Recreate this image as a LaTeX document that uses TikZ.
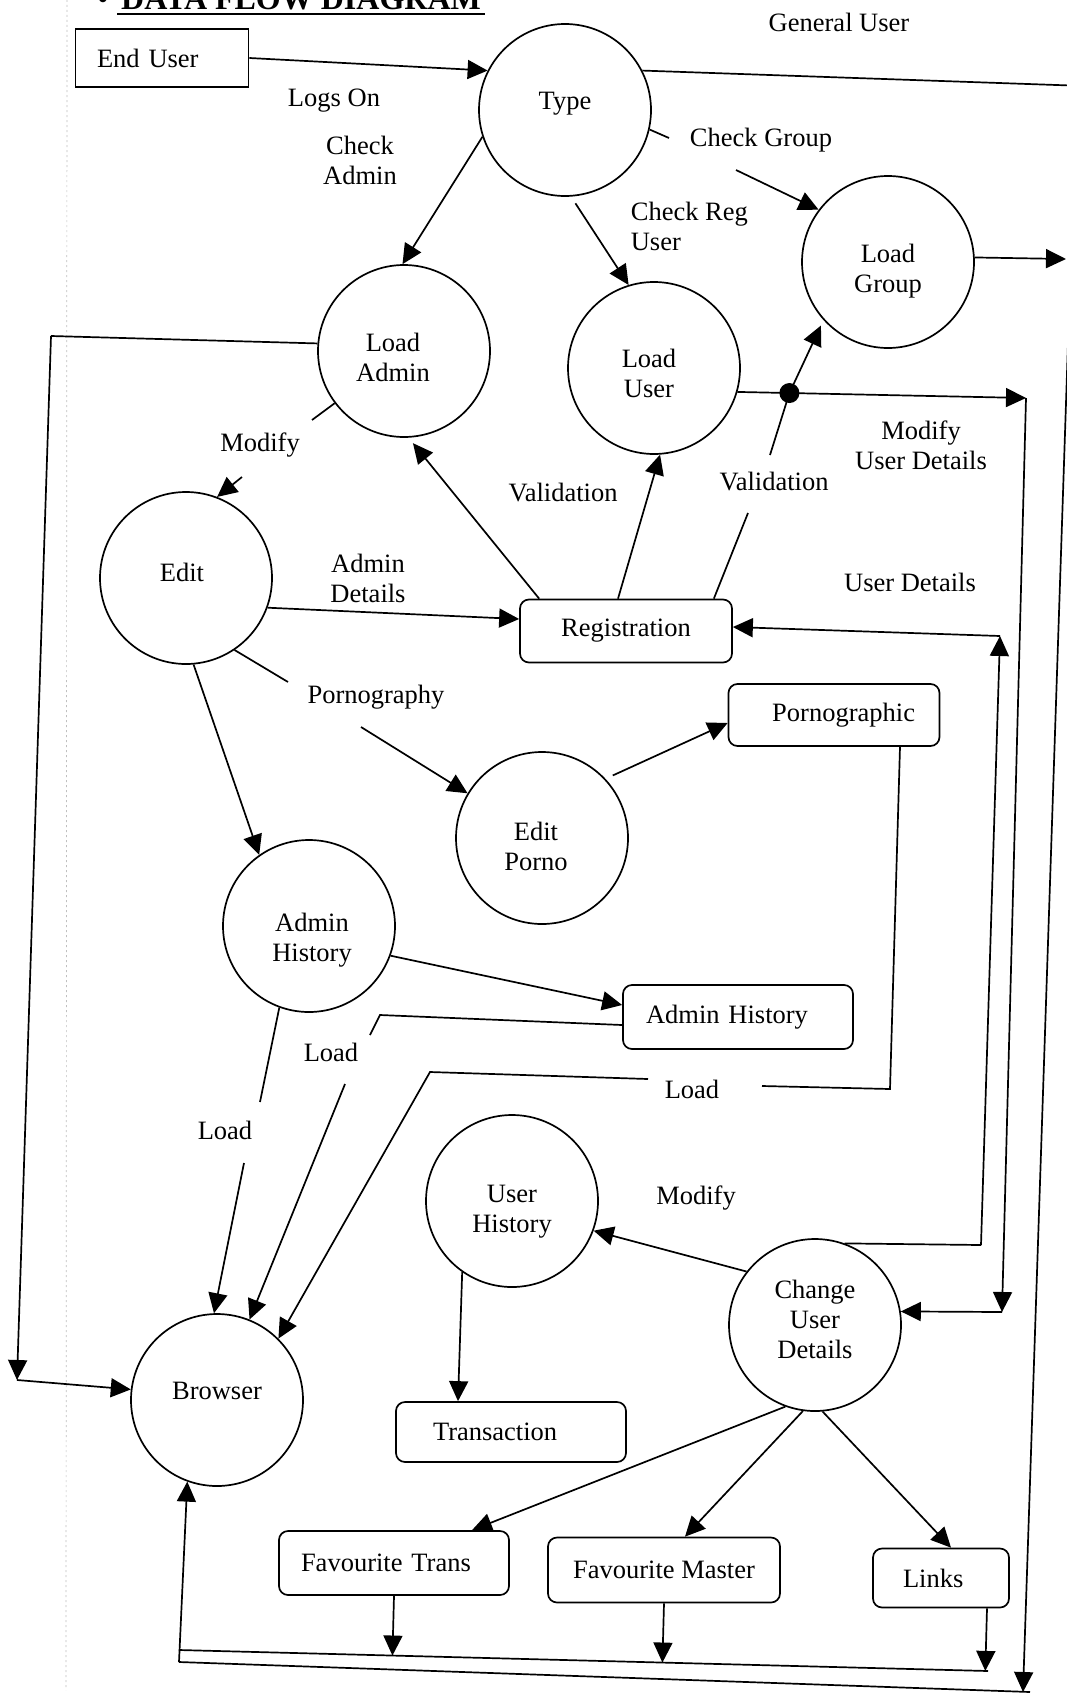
\documentclass[tikz,border=0pt]{standalone}
\usepackage{fontspec}
\setmainfont{Liberation Serif}
\usepackage{tikz}
\usetikzlibrary{positioning,calc,arrows.meta}
\tikzset{>={Triangle[length=20pt,width=19pt]}}

\begin{document}
\begin{tikzpicture}[x=1pt,y=-1pt,line width=1.7pt,
  font=\fontsize{26.5}{30}\selectfont,
  proc/.style={draw,circle,minimum size=172pt,inner sep=0pt,align=center},
  store/.style={draw,rounded corners=9pt,inner sep=0pt},
  ext/.style={draw,inner sep=0pt},
  lbl/.style={inner sep=0pt,align=center}]
\useasboundingbox (0,0) rectangle (1067,1694);
\draw[gray!50,line width=.7pt,dash pattern=on 2pt off 3pt] (67,0) -- (66,1690);
\node[anchor=base west,font=\fontsize{32}{36}\selectfont\bfseries] (title) at (117,10) {DATA FLOW DIAGRAM};
\node[anchor=base,font=\fontsize{32}{36}\selectfont] (bul) at (103,10) {\textbullet};
\draw[line width=2.6pt] ([yshift=-4pt]title.base west) -- ([yshift=-4pt]title.base east);

\node[ext,minimum width=173pt,minimum height=58pt,text width=130pt,align=left] (eu) at (162,58) {End User};
\node[proc,label={[lbl,yshift=6pt]center:Type}] (type) at (565,110) {};
\node[proc,label={[lbl,xshift=-11pt,yshift=-6pt]center:{Load\\Admin}}] (ladmin) at (404,351) {};
\node[proc,label={[lbl,xshift=-5pt,yshift=-5pt]center:{Load\\User}}] (luser) at (654,368) {};
\node[proc,label={[lbl,yshift=-9pt]center:{Load\\Group}}] (lgroup) at (888,262) {};
\node[proc,label={[lbl,xshift=-4pt,yshift=6pt]center:Edit}] (edit) at (186,578) {};
\node[store,minimum width=212pt,minimum height=63pt] (reg) at (626,631) {Registration};
\node[store,minimum width=211pt,minimum height=62pt,text width=162pt,align=right] (porn) at (834,715) {Pornographic};
\node[proc,label={[lbl,xshift=-6pt,yshift=-8pt]center:{Edit\\Porno}}] (eporno) at (542,838) {};
\node[proc,label={[lbl,xshift=3pt,yshift=-14pt]center:{Admin\\History}}] (ahist) at (309,926) {};
\node[store,minimum width=230pt,minimum height=64pt,text width=184pt,align=left] (ahbox) at (738,1017) {Admin History};
\node[proc,label={[lbl,yshift=-11pt]center:{User\\History}}] (uhist) at (512,1201) {};
\node[proc,label={[lbl,yshift=6pt]center:{Change\\User\\Details}}] (cud) at (815,1325) {};
\node[proc,label={[lbl,yshift=9pt]center:Browser}] (browser) at (217,1400) {};
\node[store,minimum width=230pt,minimum height=60pt,text width=156pt,align=left] (trans) at (511,1432) {Transaction};
\node[store,minimum width=230pt,minimum height=64pt,text width=186pt,align=left] (ftrans) at (394,1563) {Favourite Trans};
\node[store,minimum width=232pt,minimum height=65pt] (fmast) at (664,1570) {Favourite Master};
\node[store,minimum width=136pt,minimum height=59pt,text width=76pt,align=left] (links) at (941,1578) {Links};

\node[lbl] (lgen) at (839,22) {General User};
\node[lbl] (llog) at (334,101) {Logs On};
\node[lbl] (lcadm) at (360,160) {Check\\Admin};
\node[lbl] (lcgrp) at (761,140) {Check Group};
\node[lbl,anchor=west,align=left] (lcreg) at (630,226) {Check Reg\\User};
\node[lbl] (lmod1) at (260,445) {Modify};
\node[lbl] (lval1) at (563,493) {Validation};
\node[lbl] (lval2) at (774,482) {Validation};
\node[lbl] (lmud) at (921,445) {Modify\\User Details};
\node[lbl] (lud) at (910,582) {User Details};
\node[lbl] (ladet) at (368,578) {Admin\\Details};
\node[lbl] (lporn) at (376,697) {Pornography};
\node[lbl] (lload1) at (331,1052) {Load};
\node[lbl] (lload2) at (692,1089) {Load};
\node[lbl] (lload3) at (225,1130) {Load};
\node[lbl] (lmod2) at (696,1198) {Modify};

% bends and breaks of the flows
\coordinate (cg1) at (669,138); \coordinate (cg2) at (736,170);
\coordinate (gu1) at (1085,86); \coordinate (gu2) at (1068,343); \coordinate (gu3) at (1023,1692);
\coordinate (lgout) at (1066,259);
\coordinate (cor1) at (1026,398); \coordinate (cor2) at (1002,1312);
\coordinate (vr1) at (748,513); \coordinate (vr2) at (770,455);
\coordinate (m1) at (312,420); \coordinate (m2) at (242,477);
\coordinate (p1) at (288,682); \coordinate (p2) at (361,727);
\coordinate (l1) at (380,1015); \coordinate (l2) at (370,1035); \coordinate (l3) at (345,1084);
\coordinate (l4) at (260,1102); \coordinate (l5) at (244,1163);
\coordinate (r1) at (890,1089); \coordinate (r2) at (762,1086); \coordinate (r3) at (648,1079); \coordinate (r4) at (430,1072);
\coordinate (u1) at (981,1245); \coordinate (u2) at (1000,636);
\coordinate (dsa) at (179,1650); \coordinate (dsb) at (988,1671); \coordinate (dsc) at (179,1662); \coordinate (dsd) at (1030,1692);
\coordinate (lf1) at (51,336); \coordinate (lf2) at (17,1380);
\coordinate (lkout) at ([xshift=46pt]links.south);
\coordinate (jdot) at ($(luser.-16)!.18!(cor1)$);

\draw[->] (eu.east) -- (type.153);
\draw[->] (type.198) -- (ladmin.91);
\draw[->,shorten <=8pt] (type.-86) -- (luser.107);
\draw (type.-13) -- (cg1);
\draw[->] (cg2) -- (lgroup.143);
\draw[->] (type.27) -- (gu1) -- (gu2) -- (gu3);
\draw[->] (lgroup.3) -- (lgout);
\draw[->] (luser.-16) -- (cor1);
\draw[->] (cor1) -- (cor2);
\draw[->] (cor2) -- (cud.9);
\fill (jdot) circle[radius=10pt];
\draw ([xshift=-19pt]reg.north east) -- (vr1);
\draw[->,shorten >=6pt] (vr2) -- (jdot) -- (lgroup.-138);
\draw[->,shorten >=7pt] ([xshift=20pt]reg.north west) -- (ladmin.-87);
\draw[->] ([xshift=-8pt]reg.north) -- (luser.-86);
\draw (ladmin.217) -- (m1);
\draw[->] (m2) -- (edit.69);
\draw[->] (edit.-20) -- ([yshift=12pt]reg.west);
\draw (edit.-56) -- (p1);
\draw[->] (p2) -- (eporno.149);
\draw[->,shorten <=8pt] (eporno.43) -- ([yshift=-8pt]porn.west);
\draw[->] (edit.-85) -- (ahist.125);
\draw[->] (ahist.-20) -- ([yshift=12pt]ahbox.west);
\draw ([yshift=-8pt]ahbox.west) -- (l1) -- (l2);
\draw[->] (l3) -- (browser.68);
\draw (ahist.-110) -- (l4);
\draw[->] (l5) -- (browser.92);
\draw ([xshift=66pt]porn.south) -- (r1) -- (r2);
\draw[->] (r3) -- (r4) -- (browser.45);
\draw[->] (uhist.-125) -- ([xshift=-53pt]trans.north);
\draw[->] (cud.142) -- (uhist.-20);
\draw (cud.70) -- (u1);
\draw[->] (u1) -- (u2);
\draw[->] (u2) -- ([yshift=4pt]reg.east);
\draw[->] (cud.-110) -- ([xshift=78pt]ftrans.north);
\draw[->] (cud.-98) -- ([xshift=21pt]fmast.north);
\draw[->] (cud.-85) -- ([xshift=10pt]links.north);
\draw (dsa) -- (dsb);
\draw (dsc) -- (dsd);
\draw[->] (dsc) -- (browser.-110);
\draw[->] (ftrans.south) -- ($(dsa)!(ftrans.south)!(dsb)$);
\draw[->] (fmast.south) -- ($(dsa)!(fmast.south)!(dsb)$);
\draw[->] (lkout) -- ($(dsa)!(lkout)!(dsb)$);
\draw (ladmin.175) -- (lf1);
\draw[->] (lf1) -- (lf2);
\draw[->] (lf2) -- (browser.173);
\end{tikzpicture}
\end{document}
